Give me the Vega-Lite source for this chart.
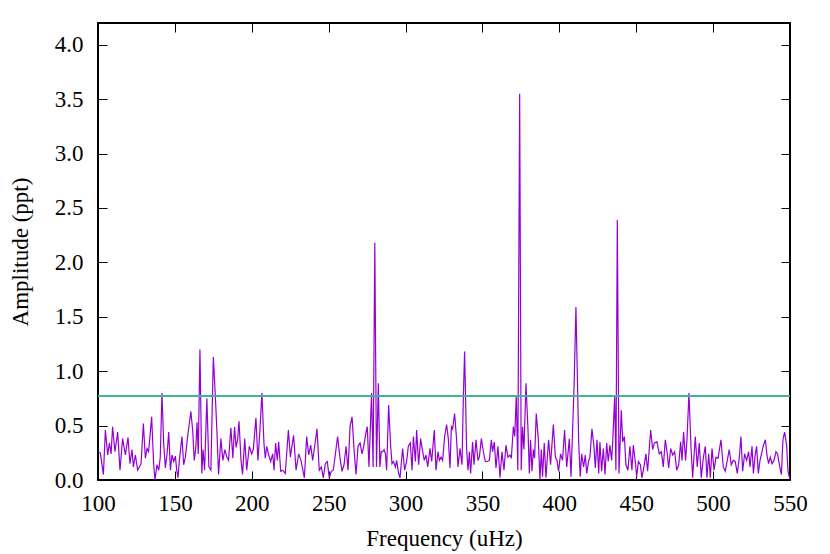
{
  "$schema": "https://vega.github.io/schema/vega-lite/v6.json",
  "width": 692,
  "height": 457,
  "autosize": {"type": "none"},
  "padding": {"left": 98, "top": 23, "right": 40, "bottom": 74},
  "background": "white",
  "config": {
    "font": "Liberation Serif",
    "view": {"stroke": "black", "strokeWidth": 2},
    "axis": {
      "labelFont": "Liberation Serif",
      "titleFont": "Liberation Serif",
      "labelFontSize": 23,
      "titleFontSize": 23,
      "labelColor": "black",
      "titleColor": "black",
      "titleFontWeight": "normal",
      "labelFlush": false,
      "labelOverlap": false,
      "domain": false,
      "grid": false,
      "tickColor": "black",
      "tickWidth": 1,
      "tickSize": -9
    }
  },
  "data": {
    "values": [
      {"f": 100, "a": 0.26}, {"f": 101.5, "a": 0.25}, {"f": 103.5, "a": 0.05}, {"f": 104.8, "a": 0.46},
      {"f": 106.3, "a": 0.23}, {"f": 107.4, "a": 0.34}, {"f": 108.5, "a": 0.24}, {"f": 109.5, "a": 0.49},
      {"f": 111, "a": 0.26}, {"f": 112.8, "a": 0.44}, {"f": 114.3, "a": 0.09}, {"f": 116, "a": 0.38},
      {"f": 117.8, "a": 0.23}, {"f": 119.5, "a": 0.39}, {"f": 120.8, "a": 0.15}, {"f": 122.1, "a": 0.28},
      {"f": 123, "a": 0.12}, {"f": 124.3, "a": 0.23}, {"f": 125.8, "a": 0.09}, {"f": 126.9, "a": 0.12},
      {"f": 128, "a": 0.15}, {"f": 129.5, "a": 0.52}, {"f": 130.8, "a": 0.2}, {"f": 131.9, "a": 0.29},
      {"f": 132.9, "a": 0.26}, {"f": 134.9, "a": 0.58}, {"f": 136.2, "a": 0.14}, {"f": 137.1, "a": 0.0},
      {"f": 138.3, "a": 0.14}, {"f": 139.5, "a": 0.09}, {"f": 140.5, "a": 0.21}, {"f": 141.6, "a": 0.8},
      {"f": 142.7, "a": 0.34}, {"f": 143.8, "a": 0.11}, {"f": 144.9, "a": 0.24}, {"f": 146, "a": 0.44},
      {"f": 147.1, "a": 0.09}, {"f": 148.1, "a": 0.23}, {"f": 149.2, "a": 0.17}, {"f": 150.3, "a": 0.22},
      {"f": 151.2, "a": 0.09}, {"f": 152, "a": 0.02}, {"f": 152.9, "a": 0.18}, {"f": 154.6, "a": 0.4},
      {"f": 155.7, "a": 0.14}, {"f": 156.8, "a": 0.21}, {"f": 158.3, "a": 0.4}, {"f": 160.4, "a": 0.63},
      {"f": 161.6, "a": 0.45}, {"f": 162.6, "a": 0.18}, {"f": 163.6, "a": 0.3}, {"f": 164.4, "a": 0.53},
      {"f": 165.2, "a": 0.24}, {"f": 166.3, "a": 1.2}, {"f": 167.5, "a": 0.06}, {"f": 168.3, "a": 0.28},
      {"f": 169.3, "a": 0.09}, {"f": 170.8, "a": 0.75}, {"f": 172.1, "a": 0.12}, {"f": 173.4, "a": 0.09},
      {"f": 175.0, "a": 1.13}, {"f": 176.2, "a": 0.8}, {"f": 177.3, "a": 0.46}, {"f": 178.4, "a": 0.05},
      {"f": 179.9, "a": 0.38}, {"f": 181.2, "a": 0.18}, {"f": 182.5, "a": 0.28}, {"f": 183.8, "a": 0.21},
      {"f": 184.9, "a": 0.18}, {"f": 186.4, "a": 0.48}, {"f": 187.7, "a": 0.2}, {"f": 188.8, "a": 0.49},
      {"f": 189.8, "a": 0.3}, {"f": 190.8, "a": 0.37}, {"f": 191.7, "a": 0.54}, {"f": 193, "a": 0.18},
      {"f": 194, "a": 0.05}, {"f": 195.4, "a": 0.38}, {"f": 196.7, "a": 0.09}, {"f": 198.4, "a": 0.31},
      {"f": 199.9, "a": 0.24}, {"f": 201, "a": 0.28}, {"f": 202.7, "a": 0.57}, {"f": 204, "a": 0.18},
      {"f": 205.3, "a": 0.46}, {"f": 206.6, "a": 0.8}, {"f": 207.9, "a": 0.34}, {"f": 208.8, "a": 0.2},
      {"f": 209.7, "a": 0.31}, {"f": 211, "a": 0.23}, {"f": 212.3, "a": 0.17}, {"f": 213.6, "a": 0.24},
      {"f": 214.5, "a": 0.09}, {"f": 215.5, "a": 0.34}, {"f": 216.6, "a": 0.18}, {"f": 217.5, "a": 0.35},
      {"f": 218.8, "a": 0.08}, {"f": 220.1, "a": 0.09}, {"f": 221.8, "a": 0.06}, {"f": 223.8, "a": 0.46},
      {"f": 225.1, "a": 0.21}, {"f": 226.2, "a": 0.32}, {"f": 227.2, "a": 0.41}, {"f": 228.8, "a": 0.09},
      {"f": 230.5, "a": 0.24}, {"f": 232, "a": 0.18}, {"f": 234.2, "a": 0.02}, {"f": 235.7, "a": 0.4},
      {"f": 237, "a": 0.23}, {"f": 238.3, "a": 0.32}, {"f": 239.6, "a": 0.18}, {"f": 240.9, "a": 0.31},
      {"f": 242.4, "a": 0.47}, {"f": 243.9, "a": 0.09}, {"f": 245.2, "a": 0.12}, {"f": 246.5, "a": 0.02},
      {"f": 247.8, "a": 0.15}, {"f": 249.1, "a": 0.17}, {"f": 250.4, "a": 0.02}, {"f": 251.7, "a": 0.08},
      {"f": 253, "a": 0.09}, {"f": 254.3, "a": 0.23}, {"f": 255.8, "a": 0.4}, {"f": 257.4, "a": 0.2},
      {"f": 258.7, "a": 0.08}, {"f": 260, "a": 0.14}, {"f": 261.3, "a": 0.31}, {"f": 262.6, "a": 0.09},
      {"f": 263.9, "a": 0.49}, {"f": 265.2, "a": 0.58}, {"f": 266.5, "a": 0.28}, {"f": 267.8, "a": 0.05},
      {"f": 269.1, "a": 0.31}, {"f": 270.4, "a": 0.34}, {"f": 271.7, "a": 0.24}, {"f": 272.8, "a": 0.31},
      {"f": 274.3, "a": 0.44}, {"f": 275.1, "a": 0.49}, {"f": 276.2, "a": 0.12}, {"f": 277.9, "a": 0.8},
      {"f": 278.9, "a": 0.12}, {"f": 280.0, "a": 2.18}, {"f": 281.1, "a": 0.12}, {"f": 282.3, "a": 0.89},
      {"f": 283.3, "a": 0.12}, {"f": 284.2, "a": 0.26}, {"f": 285.1, "a": 0.26}, {"f": 286, "a": 0.28},
      {"f": 286.9, "a": 0.24}, {"f": 287.7, "a": 0.09}, {"f": 289, "a": 0.69}, {"f": 290.3, "a": 0.31},
      {"f": 291.2, "a": 0.15}, {"f": 292.1, "a": 0.17}, {"f": 293.4, "a": 0.12}, {"f": 294.2, "a": 0.18},
      {"f": 295.5, "a": 0.06}, {"f": 296.4, "a": 0.02}, {"f": 298.1, "a": 0.29}, {"f": 299.4, "a": 0.09},
      {"f": 300.7, "a": 0.17}, {"f": 301.8, "a": 0.31}, {"f": 303.1, "a": 0.34}, {"f": 304.2, "a": 0.09},
      {"f": 305.1, "a": 0.4}, {"f": 306.4, "a": 0.17}, {"f": 307.2, "a": 0.46}, {"f": 308.5, "a": 0.14},
      {"f": 309.8, "a": 0.38}, {"f": 310.9, "a": 0.28}, {"f": 312.2, "a": 0.18}, {"f": 313.3, "a": 0.23},
      {"f": 314.4, "a": 0.12}, {"f": 315.9, "a": 0.29}, {"f": 317, "a": 0.17}, {"f": 318.7, "a": 0.46},
      {"f": 319.8, "a": 0.09}, {"f": 321.1, "a": 0.26}, {"f": 322, "a": 0.18}, {"f": 323.1, "a": 0.21},
      {"f": 324.1, "a": 0.18}, {"f": 325.4, "a": 0.4}, {"f": 326.7, "a": 0.51}, {"f": 327.8, "a": 0.38},
      {"f": 328.9, "a": 0.11}, {"f": 329.8, "a": 0.49}, {"f": 330.6, "a": 0.47}, {"f": 331.9, "a": 0.61},
      {"f": 333.2, "a": 0.37}, {"f": 334.1, "a": 0.12}, {"f": 335.4, "a": 0.29}, {"f": 336.7, "a": 0.14},
      {"f": 337.6, "a": 0.77}, {"f": 338.4, "a": 1.18}, {"f": 339.7, "a": 0.29}, {"f": 340.6, "a": 0.09},
      {"f": 341.5, "a": 0.26}, {"f": 342.3, "a": 0.06}, {"f": 343.6, "a": 0.35}, {"f": 344.5, "a": 0.14},
      {"f": 345.8, "a": 0.37}, {"f": 347.1, "a": 0.18}, {"f": 348, "a": 0.21}, {"f": 349.3, "a": 0.38},
      {"f": 350.6, "a": 0.26}, {"f": 351.9, "a": 0.17}, {"f": 353.2, "a": 0.17}, {"f": 354.5, "a": 0.18},
      {"f": 355.8, "a": 0.37}, {"f": 356.6, "a": 0.26}, {"f": 357.7, "a": 0.35}, {"f": 358.8, "a": 0.11},
      {"f": 360.1, "a": 0.31}, {"f": 361.4, "a": 0.02}, {"f": 362.7, "a": 0.26}, {"f": 364, "a": 0.09},
      {"f": 365.3, "a": 0.32}, {"f": 366.6, "a": 0.21}, {"f": 367.9, "a": 0.23}, {"f": 368.8, "a": 0.2},
      {"f": 370.1, "a": 0.49}, {"f": 371, "a": 0.4}, {"f": 372, "a": 0.78}, {"f": 373, "a": 0.09},
      {"f": 374.2, "a": 3.55}, {"f": 375.2, "a": 0.09}, {"f": 376.1, "a": 0.49}, {"f": 377, "a": 0.28},
      {"f": 378.3, "a": 0.89}, {"f": 379.6, "a": 0.47}, {"f": 380.5, "a": 0.06}, {"f": 381.3, "a": 0.37},
      {"f": 382.2, "a": 0.08}, {"f": 383.1, "a": 0.28}, {"f": 383.9, "a": 0.2}, {"f": 385, "a": 0.61},
      {"f": 386.3, "a": 0.38}, {"f": 387.4, "a": 0.0}, {"f": 388.3, "a": 0.28}, {"f": 389.1, "a": 0.03},
      {"f": 390.2, "a": 0.34}, {"f": 391.3, "a": 0.02}, {"f": 393, "a": 0.37}, {"f": 394.3, "a": 0.14},
      {"f": 396.1, "a": 0.51}, {"f": 397.4, "a": 0.21}, {"f": 398.5, "a": 0.18}, {"f": 399.5, "a": 0.08},
      {"f": 400.8, "a": 0.24}, {"f": 402.1, "a": 0.18}, {"f": 403.4, "a": 0.46}, {"f": 404.8, "a": 0.12},
      {"f": 405.6, "a": 0.24}, {"f": 406.5, "a": 0.38}, {"f": 407.6, "a": 0.03}, {"f": 408.7, "a": 0.49},
      {"f": 409.7, "a": 0.92}, {"f": 410.8, "a": 1.59}, {"f": 411.8, "a": 0.9}, {"f": 412.6, "a": 0.34},
      {"f": 413.6, "a": 0.03}, {"f": 414.5, "a": 0.24}, {"f": 415.8, "a": 0.12}, {"f": 416.9, "a": 0.23},
      {"f": 417.8, "a": 0.06}, {"f": 419.1, "a": 0.18}, {"f": 419.9, "a": 0.21}, {"f": 421.2, "a": 0.47},
      {"f": 422.5, "a": 0.31}, {"f": 423.4, "a": 0.11}, {"f": 424.5, "a": 0.37}, {"f": 425.6, "a": 0.06},
      {"f": 426.4, "a": 0.35}, {"f": 427.5, "a": 0.08}, {"f": 428.6, "a": 0.29}, {"f": 429.7, "a": 0.05},
      {"f": 430.8, "a": 0.34}, {"f": 431.8, "a": 0.17}, {"f": 432.9, "a": 0.32}, {"f": 434, "a": 0.18},
      {"f": 434.7, "a": 0.35}, {"f": 436, "a": 0.77}, {"f": 436.8, "a": 0.09}, {"f": 437.7, "a": 2.39},
      {"f": 438.8, "a": 0.06}, {"f": 440.3, "a": 0.64}, {"f": 441.2, "a": 0.35}, {"f": 442.3, "a": 0.4},
      {"f": 443.3, "a": 0.14}, {"f": 444.6, "a": 0.09}, {"f": 445.9, "a": 0.31}, {"f": 447.2, "a": 0.09},
      {"f": 448.1, "a": 0.32}, {"f": 449.4, "a": 0.17}, {"f": 450.3, "a": 0.03}, {"f": 451.4, "a": 0.17},
      {"f": 452.7, "a": 0.14}, {"f": 453.7, "a": 0.02}, {"f": 455, "a": 0.12}, {"f": 456.3, "a": 0.24},
      {"f": 457.4, "a": 0.08}, {"f": 459.4, "a": 0.46}, {"f": 460.7, "a": 0.28}, {"f": 461.8, "a": 0.34},
      {"f": 463.5, "a": 0.35}, {"f": 465, "a": 0.24}, {"f": 466.3, "a": 0.26}, {"f": 467.6, "a": 0.12},
      {"f": 468.9, "a": 0.37}, {"f": 470.2, "a": 0.24}, {"f": 471.1, "a": 0.11}, {"f": 472.4, "a": 0.29},
      {"f": 473.7, "a": 0.23}, {"f": 475, "a": 0.26}, {"f": 476.3, "a": 0.09}, {"f": 477.6, "a": 0.14},
      {"f": 478.9, "a": 0.35}, {"f": 479.8, "a": 0.18}, {"f": 480.8, "a": 0.44}, {"f": 482.1, "a": 0.18},
      {"f": 483, "a": 0.37}, {"f": 484.3, "a": 0.8}, {"f": 485.6, "a": 0.31}, {"f": 486.7, "a": 0.02},
      {"f": 488.4, "a": 0.4}, {"f": 489.7, "a": 0.12}, {"f": 491, "a": 0.34}, {"f": 492.3, "a": 0.02},
      {"f": 493.6, "a": 0.2}, {"f": 494.9, "a": 0.31}, {"f": 496, "a": 0.02}, {"f": 497.1, "a": 0.24},
      {"f": 498.2, "a": 0.02}, {"f": 499.3, "a": 0.29}, {"f": 500.6, "a": 0.09}, {"f": 501.9, "a": 0.21},
      {"f": 503.2, "a": 0.2}, {"f": 505.1, "a": 0.37}, {"f": 506.6, "a": 0.12}, {"f": 507.9, "a": 0.08},
      {"f": 509.2, "a": 0.18}, {"f": 510.5, "a": 0.28}, {"f": 511.8, "a": 0.14}, {"f": 513.1, "a": 0.18},
      {"f": 514.4, "a": 0.17}, {"f": 515.7, "a": 0.06}, {"f": 517, "a": 0.2}, {"f": 518.1, "a": 0.4},
      {"f": 519.2, "a": 0.08}, {"f": 520.5, "a": 0.24}, {"f": 521.8, "a": 0.18}, {"f": 523.1, "a": 0.26},
      {"f": 524, "a": 0.12}, {"f": 525.3, "a": 0.31}, {"f": 526.2, "a": 0.06}, {"f": 527.2, "a": 0.21},
      {"f": 528.3, "a": 0.31}, {"f": 529.4, "a": 0.06}, {"f": 530.5, "a": 0.18}, {"f": 531.8, "a": 0.26},
      {"f": 532.7, "a": 0.32}, {"f": 534, "a": 0.37}, {"f": 535, "a": 0.23}, {"f": 536.1, "a": 0.15},
      {"f": 537.2, "a": 0.21}, {"f": 538.3, "a": 0.15}, {"f": 539.6, "a": 0.18}, {"f": 540.9, "a": 0.26},
      {"f": 541.9, "a": 0.24}, {"f": 543.1, "a": 0.14}, {"f": 544.4, "a": 0.05}, {"f": 545.4, "a": 0.37},
      {"f": 546.5, "a": 0.44}, {"f": 547.8, "a": 0.32}, {"f": 548.7, "a": 0.08}, {"f": 549.6, "a": 0.03},
      {"f": 550, "a": 0.0}
    ]
  },
  "resolve": {"axis": {"x": "independent", "y": "independent"}},
  "layer": [
    {
      "mark": {"type": "line", "color": "#9400d3", "strokeWidth": 1.2, "clip": true},
      "encoding": {
        "x": {
          "field": "f", "type": "quantitative",
          "scale": {"domain": [100, 550], "nice": false, "zero": false},
          "axis": {"orient": "bottom", "values": [100, 150, 200, 250, 300, 350, 400, 450, 500, 550], "title": "Frequency (uHz)", "labelPadding": 21, "titlePadding": 12}
        },
        "y": {
          "field": "a", "type": "quantitative",
          "scale": {"domain": [0, 4.2], "nice": false},
          "axis": {"orient": "left", "values": [0, 0.5, 1, 1.5, 2, 2.5, 3, 3.5, 4], "format": ".1f", "title": "Amplitude (ppt)", "labelPadding": 24, "titlePadding": 22}
        }
      }
    },
    {
      "mark": {"type": "rule", "color": "#3fb593", "strokeWidth": 1.5},
      "encoding": {
        "y": {"datum": 0.77, "type": "quantitative", "axis": null}
      }
    },
    {
      "mark": {"type": "line", "strokeOpacity": 0},
      "encoding": {
        "x": {
          "field": "f", "type": "quantitative",
          "axis": {"orient": "top", "values": [100, 150, 200, 250, 300, 350, 400, 450, 500, 550], "labels": false, "title": null}
        },
        "y": {
          "field": "a", "type": "quantitative",
          "axis": {"orient": "right", "values": [0, 0.5, 1, 1.5, 2, 2.5, 3, 3.5, 4], "labels": false, "title": null}
        }
      }
    }
  ]
}
